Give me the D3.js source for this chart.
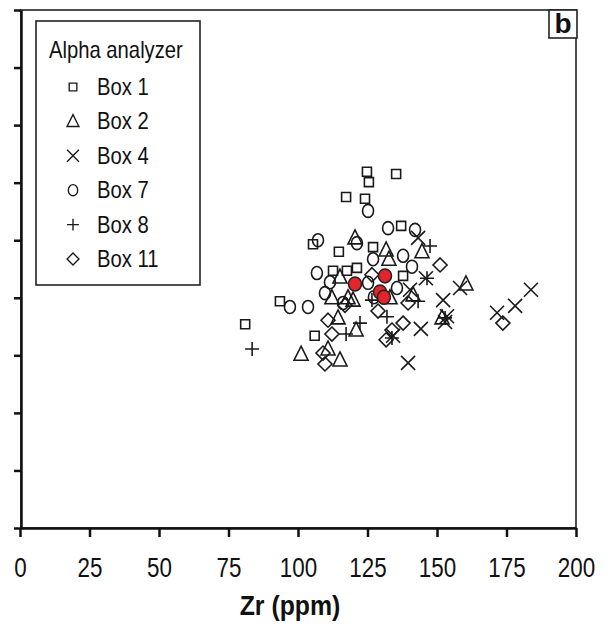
<!DOCTYPE html>
<html lang="en">
<head>
<meta charset="UTF-8">
<title>Zr scatter</title>
<script src="https://d3js.org/d3.v7.min.js"></script>
<style>
  body { margin: 0; background: #fff; }
  text { font-family: "Liberation Sans", Arial, sans-serif; }
</style>
</head>
<body>
<svg width="610" height="637"></svg>
<script>
// Zr (ppm) vs. unlabelled y quantity, per box
const box1 = [[81,35.4],[93.5,39.4],[106,33.4],[105.4,49.3],[112.6,44.7],[117.6,44.7],[114.7,48],[121.2,45.2],
  [117.3,57.5],[124.1,57.2],[124.8,61.9],[125.5,60.1],[135.3,61.5],[137.1,52.5],[127,48.8],[137.8,43.8]];
const box2 = [[120.5,50.4],[131.7,48.3],[132.7,46.7],[144.6,48],[115.1,43.6],[112.2,40],[118,40],[119.8,39.6],
  [133.1,40],[114.4,36.5],[120.9,34.4],[101.1,30.2],[110.8,31.1],[115.1,29.2],[141.4,40.5],[160.4,42.4],[151.8,36.5]];
const box4 = [[143.2,50.4],[146,43.4],[140.3,41.4],[152.2,39.6],[152.9,35.8],[144.2,34.6],[134.2,33.4],[139.6,28.7],
  [158.3,41.7],[171.6,37.4],[178.1,38.6],[183.8,41.4],[153.6,36.8]];
const box7 = [[107.2,50],[125.2,55.1],[132.4,52.1],[142.1,51.8],[121.2,49.5],[127,46.7],[137.8,47.3],[141,45.4],
  [106.8,44.3],[111.5,42.7],[109.7,40.8],[97.1,38.4],[103.6,38.4],[116.2,39.1],[125.2,42.6],[135.6,41.7],[127.3,40.1]];
const box8 = [[83.5,31.1],[117.3,33.7],[122.3,35.6],[132,36.7],[147.5,49],[146.4,43.4],[143.2,39.4],[152.9,36.5],
  [133.8,33],[126.6,39.6]];
const box11 = [[151.1,45.7],[173.7,35.6],[139.6,39.1],[137.8,35.6],[128.8,37.7],[133.8,34.4],[110.8,36.1],[112.2,33.7],
  [109,30.4],[109.7,28.5],[116.9,38.7],[126.6,44],[131.7,32.7]];
// highlighted samples (red)
const highlight = [[120.5,42.4],[131.3,43.8],[129.5,41],[130.9,40.1]];

const seriesNames = ["Box 1", "Box 2", "Box 4", "Box 7", "Box 8", "Box 11"];
const seriesShapes = ["square", "triangle", "cross", "circle", "plus", "diamond"];
const seriesData = [box1, box2, box4, box7, box8, box11];
const xTicks = [0, 25, 50, 75, 100, 125, 150, 175, 200];
const yTicks = [0, 10, 20, 30, 40, 50, 60, 70, 80, 90];

const svg = d3.select("svg");
const mLeft = 20, mRight = 576, mTop = 10, mBottom = 528;

const x = d3.scaleLinear().domain([0, 200]).range([mLeft, mRight]);
const y = d3.scaleLinear().domain([0, 90]).range([mBottom, mTop]);

// marker shapes as path strings centred on 0,0
function shapePath(kind) {
  switch (kind) {
    case "square": return "M-4.5,-4.5H4.5V4.5H-4.5Z";
    case "triangle": return "M0,-8L7,6H-7Z";
    case "cross": return "M-7,-7L7,7M-7,7L7,-7";
    case "plus": return "M-7,0H7M0,-7V7";
    case "diamond": return "M0,-7L7,0L0,7L-7,0Z";
    case "circle": return "M0,-6.5A5.5,6.5 0 1,1 0,6.5A5.5,6.5 0 1,1 0,-6.5Z";
  }
}

// frame
svg.append("rect")
  .attr("x", mLeft + 1).attr("y", mTop)
  .attr("width", mRight - mLeft - 1).attr("height", mBottom - mTop)
  .attr("fill", "none").attr("stroke", "#222").attr("stroke-width", 1.6);

// points
const pts = svg.append("g");
seriesData.forEach((data, i) => {
  pts.append("g").selectAll("path")
    .data(data)
    .join("path")
    .attr("transform", d => `translate(${x(d[0])},${y(d[1])})`)
    .attr("d", shapePath(seriesShapes[i]))
    .attr("fill", "none")
    .attr("stroke", "#1a1a1a")
    .attr("stroke-width", 1.6);
});
pts.append("g").selectAll("ellipse")
  .data(highlight)
  .join("ellipse")
  .attr("cx", d => x(d[0])).attr("cy", d => y(d[1]))
  .attr("rx", 6.5).attr("ry", 7)
  .attr("fill", "#e3242b")
  .attr("stroke", "#222").attr("stroke-width", 1.5);

// axes
const xAxis = svg.append("g")
  .attr("transform", `translate(0,${mBottom})`)
  .call(d3.axisBottom(x).tickValues(xTicks).tickSize(9).tickPadding(18).tickSizeOuter(0));
xAxis.select(".domain").attr("stroke", "#111").attr("stroke-width", 2.5);
xAxis.selectAll(".tick line").attr("stroke", "#111").attr("stroke-width", 2.5);
// the original uses a condensed face: squeeze the glyphs horizontally
xAxis.selectAll(".tick text")
  .attr("font-size", 28).attr("fill", "#111")
  .attr("y", 29)
  .attr("transform", "scale(0.8,1)")
  .style("font-family", '"Liberation Sans", Arial, sans-serif');

const yAxis = svg.append("g")
  .attr("transform", `translate(${mLeft + 1},0)`)
  .call(d3.axisLeft(y).tickValues(yTicks).tickSize(7).tickFormat("").tickSizeOuter(0));
yAxis.select(".domain").attr("stroke", "#111").attr("stroke-width", 2.5);
yAxis.selectAll(".tick line").attr("stroke", "#111").attr("stroke-width", 2.5);

svg.append("text")
  .attr("transform", `translate(${(mLeft + mRight) / 2 - 8},615) scale(0.92,1)`)
  .attr("text-anchor", "middle")
  .attr("font-size", 27).attr("font-weight", "bold")
  .attr("fill", "#111")
  .text("Zr (ppm)");

// panel letter
svg.append("rect")
  .attr("x", 549).attr("y", mTop).attr("width", 28).attr("height", 28)
  .attr("fill", "#fff").attr("stroke", "#222").attr("stroke-width", 1.6);
svg.append("text")
  .attr("x", 563).attr("y", 33)
  .attr("text-anchor", "middle")
  .attr("font-size", 28).attr("font-weight", "bold")
  .attr("fill", "#111")
  .text("b");

// legend
const lg = svg.append("g").attr("transform", "translate(36,21)");
lg.append("rect")
  .attr("width", 164).attr("height", 264)
  .attr("fill", "#fff").attr("stroke", "#222").attr("stroke-width", 1.6);
lg.append("text")
  .attr("transform", "translate(13,37) scale(0.88,1)")
  .attr("font-size", 23).attr("fill", "#111")
  .text("Alpha analyzer");
seriesNames.forEach((name, i) => {
  const cy = 66 + i * 34.4;
  lg.append("path")
    .attr("transform", `translate(37,${cy}) scale(0.85)`)
    .attr("d", shapePath(seriesShapes[i]))
    .attr("fill", "none").attr("stroke", "#1a1a1a").attr("stroke-width", 1.6);
  lg.append("text")
    .attr("transform", `translate(61,${cy + 8}) scale(0.88,1)`)
    .attr("font-size", 23).attr("fill", "#111")
    .text(name);
});
</script>
</body>
</html>
